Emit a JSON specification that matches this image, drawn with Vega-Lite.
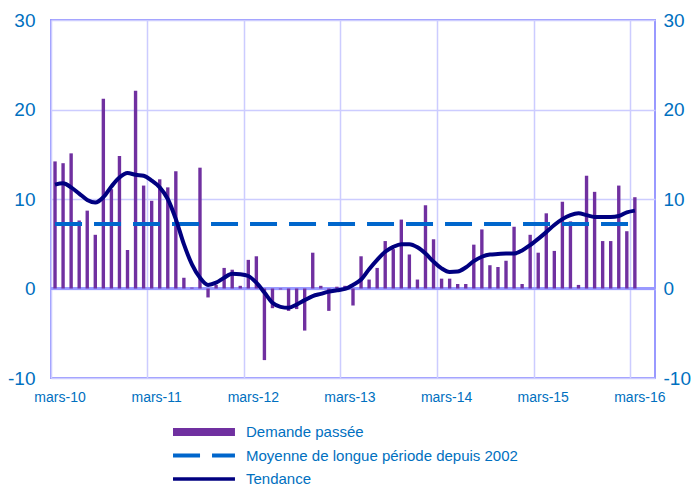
{
  "$schema": "https://vega.github.io/schema/vega-lite/v6.json",
  "width": 604,
  "height": 358,
  "autosize": {"type": "none"},
  "padding": {"left": 51, "top": 20, "right": 36, "bottom": 110},
  "background": "white",
  "config": {
    "view": {"stroke": "#9999FF", "strokeWidth": 2},
    "font": "Liberation Sans",
    "axis": {"labelFont": "Liberation Sans", "labelColor": "#0070C0", "gridColor": "#CCCCFF", "gridWidth": 1.5, "domain": false, "ticks": false, "title": null}
  },
  "data": {"values": [
    {"m": "2010-03", "d": 14.2, "t": 11.6, "a": 7.2},
    {"m": "2010-04", "d": 14.0, "t": 11.75, "a": 7.2},
    {"m": "2010-05", "d": 15.1, "t": 11.3, "a": 7.2},
    {"m": "2010-06", "d": 7.6, "t": 10.6, "a": 7.2},
    {"m": "2010-07", "d": 8.7, "t": 9.9, "a": 7.2},
    {"m": "2010-08", "d": 6.0, "t": 9.6, "a": 7.2},
    {"m": "2010-09", "d": 21.2, "t": 10.2, "a": 7.2},
    {"m": "2010-10", "d": 11.1, "t": 11.4, "a": 7.2},
    {"m": "2010-11", "d": 14.8, "t": 12.4, "a": 7.2},
    {"m": "2010-12", "d": 4.3, "t": 12.9, "a": 7.2},
    {"m": "2011-01", "d": 22.1, "t": 12.7, "a": 7.2},
    {"m": "2011-02", "d": 11.5, "t": 12.6, "a": 7.2},
    {"m": "2011-03", "d": 9.8, "t": 12.05, "a": 7.2},
    {"m": "2011-04", "d": 12.2, "t": 11.3, "a": 7.2},
    {"m": "2011-05", "d": 11.3, "t": 10.0, "a": 7.2},
    {"m": "2011-06", "d": 13.1, "t": 7.75, "a": 7.2},
    {"m": "2011-07", "d": 1.2, "t": 4.95, "a": 7.2},
    {"m": "2011-08", "d": 0.1, "t": 2.7, "a": 7.2},
    {"m": "2011-09", "d": 13.5, "t": 1.2, "a": 7.2},
    {"m": "2011-10", "d": -1.0, "t": 0.4, "a": 7.2},
    {"m": "2011-11", "d": 0.4, "t": 0.65, "a": 7.2},
    {"m": "2011-12", "d": 2.3, "t": 1.2, "a": 7.2},
    {"m": "2012-01", "d": 2.1, "t": 1.65, "a": 7.2},
    {"m": "2012-02", "d": 0.3, "t": 1.6, "a": 7.2},
    {"m": "2012-03", "d": 3.2, "t": 1.4, "a": 7.2},
    {"m": "2012-04", "d": 3.6, "t": 0.65, "a": 7.2},
    {"m": "2012-05", "d": -8.0, "t": -0.45, "a": 7.2},
    {"m": "2012-06", "d": -2.2, "t": -1.6, "a": 7.2},
    {"m": "2012-07", "d": -0.1, "t": -2.05, "a": 7.2},
    {"m": "2012-08", "d": -2.5, "t": -2.15, "a": 7.2},
    {"m": "2012-09", "d": -2.3, "t": -1.8, "a": 7.2},
    {"m": "2012-10", "d": -4.7, "t": -1.3, "a": 7.2},
    {"m": "2012-11", "d": 4.0, "t": -0.85, "a": 7.2},
    {"m": "2012-12", "d": 0.3, "t": -0.6, "a": 7.2},
    {"m": "2013-01", "d": -2.5, "t": -0.35, "a": 7.2},
    {"m": "2013-02", "d": 0.2, "t": -0.2, "a": 7.2},
    {"m": "2013-03", "d": 0.3, "t": -0.05, "a": 7.2},
    {"m": "2013-04", "d": -1.9, "t": 0.4, "a": 7.2},
    {"m": "2013-05", "d": 3.6, "t": 1.0, "a": 7.2},
    {"m": "2013-06", "d": 1.0, "t": 2.15, "a": 7.2},
    {"m": "2013-07", "d": 2.3, "t": 3.2, "a": 7.2},
    {"m": "2013-08", "d": 5.3, "t": 4.1, "a": 7.2},
    {"m": "2013-09", "d": 4.4, "t": 4.65, "a": 7.2},
    {"m": "2013-10", "d": 7.7, "t": 4.95, "a": 7.2},
    {"m": "2013-11", "d": 3.8, "t": 4.95, "a": 7.2},
    {"m": "2013-12", "d": 1.0, "t": 4.6, "a": 7.2},
    {"m": "2014-01", "d": 9.3, "t": 3.9, "a": 7.2},
    {"m": "2014-02", "d": 5.5, "t": 3.0, "a": 7.2},
    {"m": "2014-03", "d": 1.1, "t": 2.25, "a": 7.2},
    {"m": "2014-04", "d": 1.1, "t": 1.85, "a": 7.2},
    {"m": "2014-05", "d": 0.5, "t": 1.9, "a": 7.2},
    {"m": "2014-06", "d": 0.5, "t": 2.35, "a": 7.2},
    {"m": "2014-07", "d": 4.9, "t": 3.05, "a": 7.2},
    {"m": "2014-08", "d": 6.6, "t": 3.55, "a": 7.2},
    {"m": "2014-09", "d": 2.6, "t": 3.8, "a": 7.2},
    {"m": "2014-10", "d": 2.4, "t": 3.85, "a": 7.2},
    {"m": "2014-11", "d": 3.1, "t": 3.9, "a": 7.2},
    {"m": "2014-12", "d": 6.9, "t": 3.9, "a": 7.2},
    {"m": "2015-01", "d": 0.5, "t": 4.25, "a": 7.2},
    {"m": "2015-02", "d": 6.0, "t": 4.85, "a": 7.2},
    {"m": "2015-03", "d": 4.0, "t": 5.55, "a": 7.2},
    {"m": "2015-04", "d": 8.4, "t": 6.3, "a": 7.2},
    {"m": "2015-05", "d": 4.2, "t": 7.1, "a": 7.2},
    {"m": "2015-06", "d": 9.7, "t": 7.75, "a": 7.2},
    {"m": "2015-07", "d": 7.5, "t": 8.2, "a": 7.2},
    {"m": "2015-08", "d": 0.4, "t": 8.4, "a": 7.2},
    {"m": "2015-09", "d": 12.6, "t": 8.2, "a": 7.2},
    {"m": "2015-10", "d": 10.8, "t": 8.0, "a": 7.2},
    {"m": "2015-11", "d": 5.3, "t": 8.0, "a": 7.2},
    {"m": "2015-12", "d": 5.3, "t": 8.0, "a": 7.2},
    {"m": "2016-01", "d": 11.5, "t": 8.1, "a": 7.2},
    {"m": "2016-02", "d": 6.4, "t": 8.5, "a": 7.2},
    {"m": "2016-03", "d": 10.2, "t": 8.7, "a": 7.2}
  ]},
  "encoding": {
    "x": {
      "field": "m", "type": "ordinal",
      "scale": {"paddingInner": 0, "paddingOuter": 0, "domain": ["2010-03","2010-04","2010-05","2010-06","2010-07","2010-08","2010-09","2010-10","2010-11","2010-12","2011-01","2011-02","2011-03","2011-04","2011-05","2011-06","2011-07","2011-08","2011-09","2011-10","2011-11","2011-12","2012-01","2012-02","2012-03","2012-04","2012-05","2012-06","2012-07","2012-08","2012-09","2012-10","2012-11","2012-12","2013-01","2013-02","2013-03","2013-04","2013-05","2013-06","2013-07","2013-08","2013-09","2013-10","2013-11","2013-12","2014-01","2014-02","2014-03","2014-04","2014-05","2014-06","2014-07","2014-08","2014-09","2014-10","2014-11","2014-12","2015-01","2015-02","2015-03","2015-04","2015-05","2015-06","2015-07","2015-08","2015-09","2015-10","2015-11","2015-12","2016-01","2016-02","2016-03","2016-04","2016-05"]},
      "axis": {
        "values": ["2010-03","2011-03","2012-03","2013-03","2014-03","2015-03","2016-03"],
        "bandPosition": 0, "grid": true, "labelAngle": 0, "labelOffset": 5,
        "labelFontSize": 14, "labelPadding": 12,
        "labelExpr": "'mars-' + substring(datum.value, 2, 4)"
      }
    }
  },
  "layer": [
    {
      "mark": {"type": "rule", "color": "#9999FF", "strokeWidth": 2},
      "encoding": {"y": {"datum": 0, "type": "quantitative", "scale": {"domain": [-10, 30], "nice": false}, "axis": null}, "x": null}
    },
    {
      "mark": {"type": "bar", "width": {"band": 0.42}},
      "encoding": {
        "y": {"field": "d", "type": "quantitative", "scale": {"domain": [-10, 30], "nice": false}, "axis": {"orient": "left", "values": [-10, 0, 10, 20, 30], "grid": true, "labelFontSize": 19, "labelPadding": 16, "labelExpr": "'' + datum.value"}},
        "color": {
          "datum": "Demande passée", "type": "nominal",
          "scale": {"domain": ["Demande passée", "Moyenne de longue période depuis 2002", "Tendance"], "range": ["#7030A0", "#0066CC", "#000080"]},
          "legend": {
            "title": null, "orient": "none", "legendX": 145.5, "legendY": 404.5, "direction": "vertical",
            "symbolType": "M-4.13,0H4.13", "symbolSize": 225, "padding": 0,
            "labelFont": "Liberation Sans", "labelFontSize": 15, "labelColor": "#0070C0", "labelOffset": 34.5, "labelLimit": 400, "rowPadding": 7.5,
            "encode": {"symbols": {"update": {
              "stroke": {"signal": "datum.value === 'Demande passée' ? '#7030A0' : datum.value === 'Tendance' ? '#000080' : '#0066CC'"},
              "strokeWidth": {"signal": "datum.value === 'Demande passée' ? 8 : datum.value === 'Tendance' ? 3.5 : 4"},
              "strokeDash": {"signal": "datum.value === 'Moyenne de longue période depuis 2002' ? [27, 12] : [1, 0]"},
              "strokeJoin": {"value": "round"},
              "fill": {"value": "transparent"},
              "opacity": {"value": 1}
            }}}
          }
        }
      }
    },
    {
      "mark": {"type": "line", "strokeWidth": 4, "strokeDash": [27, 12]},
      "encoding": {
        "y": {"field": "a", "type": "quantitative", "axis": null},
        "color": {"datum": "Moyenne de longue période depuis 2002", "type": "nominal"}
      }
    },
    {
      "mark": {"type": "line", "strokeWidth": 4, "interpolate": "monotone"},
      "encoding": {
        "y": {"field": "t", "type": "quantitative", "axis": {"orient": "right", "values": [-10, 0, 10, 20, 30], "grid": false, "labelFontSize": 19, "labelPadding": 8, "labelExpr": "'' + datum.value"}},
        "color": {"datum": "Tendance", "type": "nominal"}
      }
    }
  ],
  "resolve": {"axis": {"y": "independent"}, "scale": {"y": "shared"}}
}
